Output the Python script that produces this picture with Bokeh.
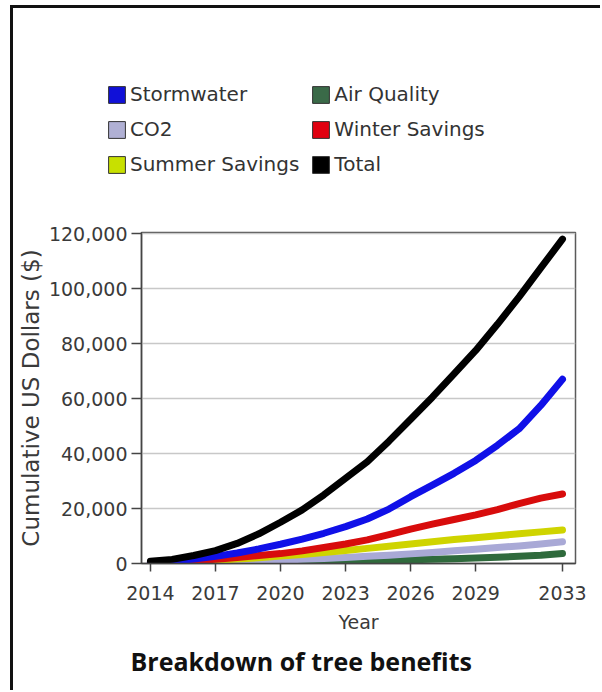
from bokeh.plotting import figure
from bokeh.models import (FixedTicker, NumeralTickFormatter, Legend, LegendItem,
                          Title, Range1d, Spacer)
from bokeh.layouts import row, column
from bokeh.embed import file_html
from bokeh.resources import INLINE

years = list(range(2014, 2034))
stormwater = [400, 900, 1600, 2600, 3800, 5300, 7000, 8900, 11000, 13400,
              16200, 19800, 24300, 28500, 32800, 37500, 43000, 49000, 57500, 67000]
air_quality = [20, 60, 120, 200, 280, 370, 470, 580, 700, 830,
               980, 1140, 1320, 1530, 1760, 2020, 2300, 2620, 2980, 3600]
co2 = [50, 150, 300, 500, 700, 900, 1200, 1500, 1800, 2200,
       2600, 3000, 3500, 4000, 4600, 5200, 5800, 6400, 7100, 7900]
winter_savings = [200, 500, 1000, 1500, 2200, 2900, 3600, 4600, 5800, 7100,
                  8600, 10500, 12500, 14300, 16000, 17700, 19600, 21800, 23800, 25300]
summer_savings = [100, 300, 700, 1100, 1600, 2100, 2700, 3300, 4000, 4700,
                  5500, 6300, 7100, 7900, 8700, 9400, 10100, 10800, 11500, 12200]
total = [800, 1500, 2900, 4700, 7300, 10800, 15000, 19500, 25000, 31000,
         37000, 44500, 52500, 60500, 69000, 77500, 87000, 97000, 107500, 118000]

x_ticks = [2014, 2017, 2020, 2023, 2026, 2029, 2033]
y_ticks = [0, 20000, 40000, 60000, 80000, 100000, 120000]

series_names = ["Stormwater", "Air Quality", "CO2", "Winter Savings", "Summer Savings", "Total"]
series_values = [stormwater, air_quality, co2, winter_savings, summer_savings, total]
line_colors = ["#1010e8", "#2f6a3c", "#a9a9d6", "#d80c0c", "#cfd400", "#000000"]
swatch_colors = ["#1010d8", "#3a6a48", "#b0b0d4", "#e00010", "#c8e000", "#000000"]
draw_order = [1, 2, 4, 3, 0, 5]
legend_order = [0, 2, 4, 1, 3, 5]  # legend fills column by column

FONT = "DejaVu Sans"
BORDER = "#111111"

# legend panel (swatch renderers hold each series' span, lying outside this view)
lp = figure(width=587, height=193, output_backend="svg", toolbar_location=None,
            x_axis_type=None, y_axis_type=None,
            x_range=Range1d(0, 1), y_range=Range1d(0, 1),
            min_border_left=0, min_border_right=0, min_border_top=0, min_border_bottom=0)
lp.outline_line_color = None
lp.xgrid.visible = False
lp.ygrid.visible = False
items = []
for i in legend_order:
    vals = series_values[i]
    r = lp.quad(left=[years[0]], right=[years[-1]], bottom=[0], top=[vals[-1]],
                fill_color=swatch_colors[i], line_color="#333333", line_width=1)
    items.append(LegendItem(label=series_names[i], renderers=[r]))
legend = Legend(items=items, ncols=2, location=(93, 25),
                glyph_width=21, glyph_height=21, label_standoff=3, spacing=11,
                padding=0, margin=0, label_height=20,
                label_text_font=FONT, label_text_font_size="20px",
                label_text_color="#333333",
                border_line_alpha=0, background_fill_alpha=0)
lp.add_layout(legend, "center")

# main chart
p = figure(width=587, height=489, output_backend="svg", toolbar_location=None,
           x_range=Range1d(2013.59, 2033.6), y_range=Range1d(0, 120400),
           min_border_left=128, min_border_right=25, min_border_top=31,
           min_border_bottom=127)
p.background_fill_color = "white"
p.border_fill_color = "white"
p.outline_line_color = "#5a5a5a"
p.outline_line_width = 1.5

for f in (lp, p):
    try:
        f.frame_align = False
    except AttributeError:
        pass

for i in draw_order:
    p.line(years, series_values[i], line_color=line_colors[i], line_width=7,
           line_cap="round", line_join="round")

p.xgrid.visible = False
p.ygrid.ticker = FixedTicker(ticks=y_ticks)
p.ygrid.grid_line_color = "#c8c8c8"
p.ygrid.grid_line_width = 1.5

p.xaxis.ticker = FixedTicker(ticks=x_ticks)
p.yaxis.ticker = FixedTicker(ticks=y_ticks)
p.yaxis.formatter = NumeralTickFormatter(format="0,0")

for ax in (p.xaxis[0], p.yaxis[0]):
    ax.axis_line_color = "#444444"
    ax.axis_line_width = 1.5
    ax.major_tick_line_color = "#444444"
    ax.major_tick_line_width = 1.5
    ax.minor_tick_line_color = None
    ax.major_tick_in = 0
    ax.major_label_text_font = FONT
    ax.major_label_text_font_size = "19px"
    ax.major_label_text_color = "#3a3a3a"
    ax.axis_label_text_font = FONT
    ax.axis_label_text_font_style = "normal"
    ax.axis_label_text_color = "#3a3a3a"

p.xaxis.major_tick_out = 8
p.xaxis.major_label_standoff = 14
p.xaxis.axis_label = "Year"
p.xaxis.axis_label_text_font_size = "19px"
p.xaxis.axis_label_standoff = 8

p.yaxis.major_tick_out = 10
p.yaxis.major_label_standoff = 4
p.yaxis.axis_label = "Cumulative US Dollars ($)"
p.yaxis.axis_label_text_font_size = "23px"
p.yaxis.axis_label_standoff = 2

title = Title(text="Breakdown of tree benefits", align="left", offset=-11,
              text_font="Open Sans", text_font_size="25px", text_font_style="bold",
              text_color="#111111", standoff=12)
p.add_layout(title, "below")

left_edge = Spacer(width=3, height=685, styles={"background-color": BORDER})
top_edge = Spacer(width=587, height=3, styles={"background-color": BORDER})

layout = row(Spacer(width=10, height=690),
             column(Spacer(width=3, height=5), left_edge, spacing=0),
             column(Spacer(width=587, height=5), top_edge, lp, p, spacing=0),
             spacing=0)

open("out.html", "w").write(file_html(layout, INLINE))
